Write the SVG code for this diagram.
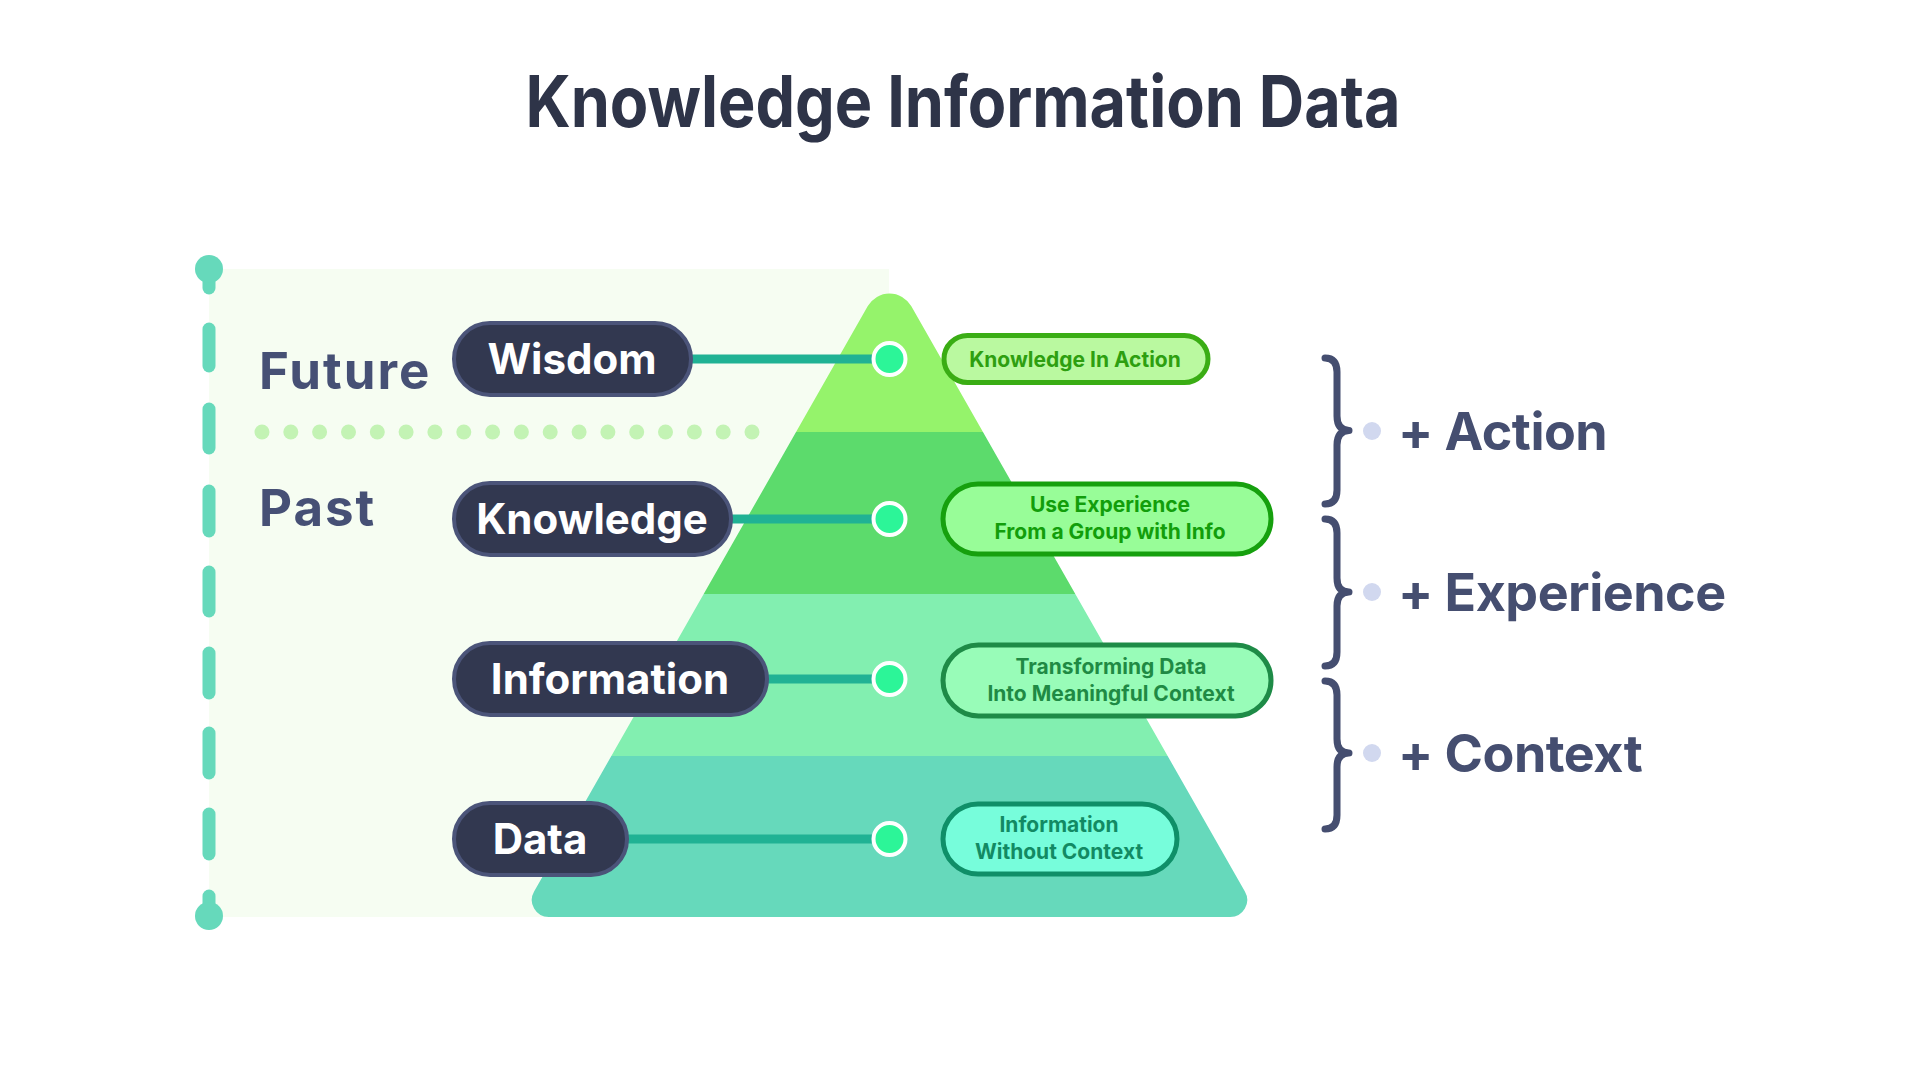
<svg xmlns="http://www.w3.org/2000/svg" width="1920" height="1079" viewBox="0 0 1920 1079">
<style>
  .t{font-family:Inter,"Noto Sans","Liberation Sans",sans-serif;font-weight:700}
  .side{fill:#465075;font-size:51px;letter-spacing:2px}
  .pill{fill:#323850;stroke:#4b5479;stroke-width:4}
  .pt{fill:#ffffff;font-size:42px;text-anchor:middle}
  .desc{font-size:21px;font-weight:700;text-anchor:middle}
  .conn{stroke:#20b294;stroke-width:9;fill:none}
  .dot{fill:#2cf598;stroke:#ffffff;stroke-width:4}
  .dash{stroke:#66d9bb;stroke-width:13;stroke-linecap:round}
  .brace{fill:none;stroke:#454e70;stroke-width:7;stroke-linecap:round;stroke-linejoin:round}
  .bdot{fill:#d1d8ef}
  .plus{fill:#454e70;font-size:52px;letter-spacing:-0.5px}
  .fdot{fill:#c3f3b4}
</style>
<defs>
  <clipPath id="pyr">
    <path d="M867.8 306.1 A25 25 0 0 1 911.2 306.1 L1244.9 891.5 A17 17 0 0 1 1230.1 917 L548.9 917 A17 17 0 0 1 534.1 891.5 Z"/>
  </clipPath>
</defs>
<rect width="1920" height="1079" fill="#ffffff"/>
<text class="t" x="963" y="127" font-size="71" fill="#2e3448" text-anchor="middle" textLength="875" lengthAdjust="spacingAndGlyphs">Knowledge Information Data</text>

<g id="panel">
  <rect x="209" y="269" width="680" height="648" fill="#f6fdf2"/>
</g>

<g id="timeline">
  <line class="dash" x1="209" y1="274" x2="209" y2="288"/>
  <line class="dash" x1="209" y1="329" x2="209" y2="366"/>
  <line class="dash" x1="209" y1="409" x2="209" y2="448"/>
  <line class="dash" x1="209" y1="491" x2="209" y2="531"/>
  <line class="dash" x1="209" y1="572" x2="209" y2="611"/>
  <line class="dash" x1="209" y1="653" x2="209" y2="693"/>
  <line class="dash" x1="209" y1="733" x2="209" y2="773"/>
  <line class="dash" x1="209" y1="814" x2="209" y2="854"/>
  <line class="dash" x1="209" y1="896" x2="209" y2="910"/>
  <circle cx="209" cy="269" r="14" fill="#66d9bb"/>
  <circle cx="209" cy="916" r="14" fill="#66d9bb"/>
  <text class="t side" x="259" y="389">Future</text>
  <text class="t side" x="259" y="526">Past</text>
  <g id="divider">
    <circle class="fdot" cx="262" cy="432" r="7.5"/><circle class="fdot" cx="290.8" cy="432" r="7.5"/>
    <circle class="fdot" cx="319.6" cy="432" r="7.5"/><circle class="fdot" cx="348.5" cy="432" r="7.5"/>
    <circle class="fdot" cx="377.3" cy="432" r="7.5"/><circle class="fdot" cx="406.1" cy="432" r="7.5"/>
    <circle class="fdot" cx="434.9" cy="432" r="7.5"/><circle class="fdot" cx="463.8" cy="432" r="7.5"/>
    <circle class="fdot" cx="492.6" cy="432" r="7.5"/><circle class="fdot" cx="521.4" cy="432" r="7.5"/>
    <circle class="fdot" cx="550.2" cy="432" r="7.5"/><circle class="fdot" cx="579.1" cy="432" r="7.5"/>
    <circle class="fdot" cx="607.9" cy="432" r="7.5"/><circle class="fdot" cx="636.7" cy="432" r="7.5"/>
    <circle class="fdot" cx="665.5" cy="432" r="7.5"/><circle class="fdot" cx="694.4" cy="432" r="7.5"/>
    <circle class="fdot" cx="723.2" cy="432" r="7.5"/><circle class="fdot" cx="752" cy="432" r="7.5"/>
  </g>
</g>

<g id="pyramid" clip-path="url(#pyr)">
  <rect x="500" y="260" width="800" height="172" fill="#95f36b"/>
  <rect x="500" y="432" width="800" height="162" fill="#5cdb6c"/>
  <rect x="500" y="594" width="800" height="162" fill="#82efb0"/>
  <rect x="500" y="756" width="800" height="170" fill="#66d9bb"/>
</g>

<g id="connectors">
  <line class="conn" x1="680" y1="359" x2="889" y2="359"/>
  <line class="conn" x1="720" y1="519" x2="889" y2="519"/>
  <line class="conn" x1="756" y1="679" x2="889" y2="679"/>
  <line class="conn" x1="616" y1="839" x2="889" y2="839"/>
  <circle class="dot" cx="889.5" cy="359" r="16"/>
  <circle class="dot" cx="889.5" cy="519" r="16"/>
  <circle class="dot" cx="889.5" cy="679" r="16"/>
  <circle class="dot" cx="889.5" cy="839" r="16"/>
</g>

<g id="wisdom">
  <rect class="pill" x="454" y="323" width="237" height="72" rx="36"/>
  <text class="t pt" x="572" y="374">Wisdom</text>
</g>
<g id="knowledge">
  <rect class="pill" x="454" y="483" width="277" height="72" rx="36"/>
  <text class="t pt" x="592" y="534">Knowledge</text>
</g>
<g id="information">
  <rect class="pill" x="454" y="643" width="313" height="72" rx="36"/>
  <text class="t pt" x="610" y="694">Information</text>
</g>
<g id="data">
  <rect class="pill" x="454" y="803" width="173" height="72" rx="36"/>
  <text class="t pt" x="540" y="854">Data</text>
</g>

<g id="desc-wisdom">
  <rect x="944" y="335.5" width="264" height="47" rx="23.5" fill="#baf9a0" stroke="#3aad14" stroke-width="5"/>
  <text class="t desc" x="1075" y="367" fill="#2e9f10">Knowledge In Action</text>
</g>
<g id="desc-knowledge">
  <rect x="943" y="484" width="328" height="70" rx="35" fill="#98fd98" stroke="#16a00e" stroke-width="5"/>
  <text class="t desc" x="1110" y="512" fill="#129e0b">Use Experience</text>
  <text class="t desc" x="1110" y="539" fill="#129e0b">From a Group with Info</text>
</g>
<g id="desc-information">
  <rect x="943" y="645" width="328" height="71" rx="35.5" fill="#98fcb8" stroke="#1e8b47" stroke-width="5"/>
  <text class="t desc" x="1111" y="674" fill="#1f8a44">Transforming Data</text>
  <text class="t desc" x="1111" y="701" fill="#1f8a44">Into Meaningful Context</text>
</g>
<g id="desc-data">
  <rect x="943" y="804" width="234" height="70" rx="35" fill="#77fddb" stroke="#0f8f68" stroke-width="5"/>
  <text class="t desc" x="1059" y="832" fill="#128a63">Information</text>
  <text class="t desc" x="1059" y="859" fill="#128a63">Without Context</text>
</g>

<g id="brace-action">
  <path class="brace" d="M1325 358 Q1337 358 1337 372 L1337 416 Q1337 430 1349 430.5 Q1337 431 1337 445 L1337 490 Q1337 504 1325 504"/>
  <circle class="bdot" cx="1372" cy="431" r="9"/>
  <text class="t plus" x="1398" y="450">+ Action</text>
</g>
<g id="brace-experience">
  <path class="brace" d="M1325 519 Q1337 519 1337 533 L1337 578 Q1337 592 1349 592 Q1337 592 1337 606 L1337 652 Q1337 666 1325 666"/>
  <circle class="bdot" cx="1372" cy="592" r="9"/>
  <text class="t plus" x="1398" y="611">+ Experience</text>
</g>
<g id="brace-context">
  <path class="brace" d="M1325 681 Q1337 681 1337 695 L1337 739 Q1337 753 1349 753 Q1337 753 1337 767 L1337 815 Q1337 829 1325 829"/>
  <circle class="bdot" cx="1372" cy="753" r="9"/>
  <text class="t plus" x="1398" y="772">+ Context</text>
</g>
</svg>
